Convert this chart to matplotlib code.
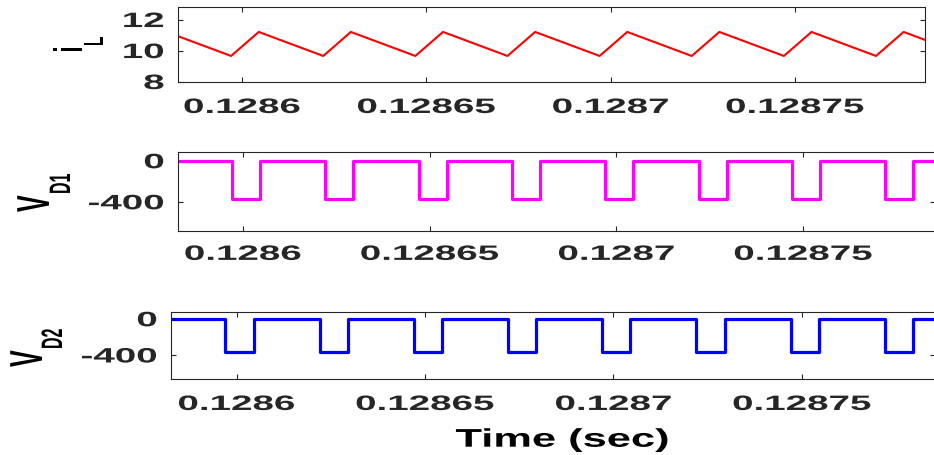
import matplotlib.pyplot as plt
from matplotlib.patheffects import AbstractPathEffect
from matplotlib.transforms import Affine2D

# Inductor current, corner points of the ripple (s, A)
il_time = [0.1285720, 0.1285795, 0.1285970, 0.1286045, 0.1286220, 0.1286295,
           0.1286470, 0.1286545, 0.1286720, 0.1286795, 0.1286970, 0.1287045,
           0.1287220, 0.1287295, 0.1287470, 0.1287545, 0.1287720, 0.1287795,
           0.1287970]
il_amps = [9.65, 11.2, 9.65, 11.2, 9.65, 11.2, 9.65, 11.2, 9.65, 11.2,
           9.65, 11.2, 9.65, 11.2, 9.65, 11.2, 9.65, 11.2, 9.65]

# Diode voltages: switching edges (s) and the level after each edge (V)
vd_edges = [0.1285700, 0.1285970, 0.1286045, 0.1286220, 0.1286295, 0.1286470,
            0.1286545, 0.1286720, 0.1286795, 0.1286970, 0.1287045, 0.1287220,
            0.1287295, 0.1287470, 0.1287545, 0.1287720, 0.1287795, 0.1288000]
vd1_volts = [0, -370, 0, -370, 0, -370, 0, -370, 0, -370, 0, -370, 0, -370,
             0, -370, 0, 0]
vd2_volts = [0, -370, 0, -370, 0, -370, 0, -370, 0, -370, 0, -370, 0, -370,
             0, -370, 0, 0]

t_lim = (0.1285826, 0.1287853)
t_ticks = [0.1286, 0.12865, 0.1287, 0.12875]
t_labels = ['0.1286', '0.12865', '0.1287', '0.12875']

W, H = 934, 455
INK = '#262626'


class Widen(AbstractPathEffect):
    """Stretch drawn text sideways about a point of its box."""

    def __init__(self, sx=1.85, anchor=0.5):
        super().__init__()
        self.sx = sx
        self.anchor = anchor

    def draw_path(self, renderer, gc, tpath, affine, rgbFace=None):
        box = tpath.get_extents(affine)
        x0 = box.x0 + self.anchor * box.width
        widen = Affine2D().translate(-x0, 0).scale(self.sx, 1).translate(x0, 0)
        renderer.draw_path(gc, tpath, affine + widen, rgbFace)


def px_axes(fig, left, right, top, bottom):
    return fig.add_axes([left / W, 1 - bottom / H, (right - left) / W, (bottom - top) / H])


def px_text(fig, x, y, s, size, anchor=1.0, **kw):
    fig.text(x / W, 1 - y / H, s, fontsize=size, rotation=90, rotation_mode='anchor',
             ha='left', va='baseline', path_effects=[Widen(anchor=anchor)], **kw)


def style(ax, ylim, yticks, ylabels, xpad):
    ax.set_xlim(t_lim)
    ax.set_ylim(ylim)
    ax.set_xticks(t_ticks, t_labels)
    ax.set_yticks(yticks, ylabels)
    ax.tick_params(direction='in', length=3.5, width=0.8, top=True, right=True,
                   colors=INK, labelsize=15)
    ax.tick_params(axis='x', pad=xpad)
    ax.tick_params(axis='y', pad=10)
    for s in ax.spines.values():
        s.set_linewidth(0.8)
        s.set_color(INK)
    for lbl in ax.get_xticklabels():
        lbl.set_path_effects([Widen(anchor=0.5)])
    for lbl in ax.get_yticklabels():
        lbl.set_path_effects([Widen(anchor=1.0)])


plt.rcParams['font.family'] = 'Liberation Sans'
plt.rcParams['font.weight'] = 'bold'

fig = plt.figure(figsize=(W / 100, H / 100), dpi=100)

ax1 = px_axes(fig, 178, 925, 7.3, 82)
ax1.plot(il_time, il_amps, color='#ff0000', lw=1.5)
style(ax1, (7.97, 12.79), [8, 10, 12], ['8', '10', '12'], 11.5)

ax2 = px_axes(fig, 178, 935, 152, 231)
ax2.plot(vd_edges, vd1_volts, color='#ff00ff', lw=2.3, drawstyle='steps-post')
style(ax2, (-685, 85), [-400, 0], ['-400', '0'], 10)

ax3 = px_axes(fig, 171, 935, 311.5, 379)
ax3.plot(vd_edges, vd2_volts, color='#0000ff', lw=2.3, drawstyle='steps-post')
style(ax3, (-665, 80), [-400, 0], ['-400', '0'], 11.5)

# y labels with the subscript dropped below the baseline
px_text(fig, 82, 53, 'i', 15.8)
px_text(fig, 103, 46, 'L', 10.8)
px_text(fig, 49, 212, 'V', 18)
px_text(fig, 70, 194, 'D1', 11.5)
px_text(fig, 42, 367, 'V', 18)
px_text(fig, 62, 349, 'D2', 11.5)

fig.text(562 / W, 1 - 446.7 / H, 'Time (sec)', fontsize=18.4, ha='center',
         va='baseline', color='black', path_effects=[Widen(sx=1.7, anchor=0.5)])

fig.savefig('out.png', dpi=100)
